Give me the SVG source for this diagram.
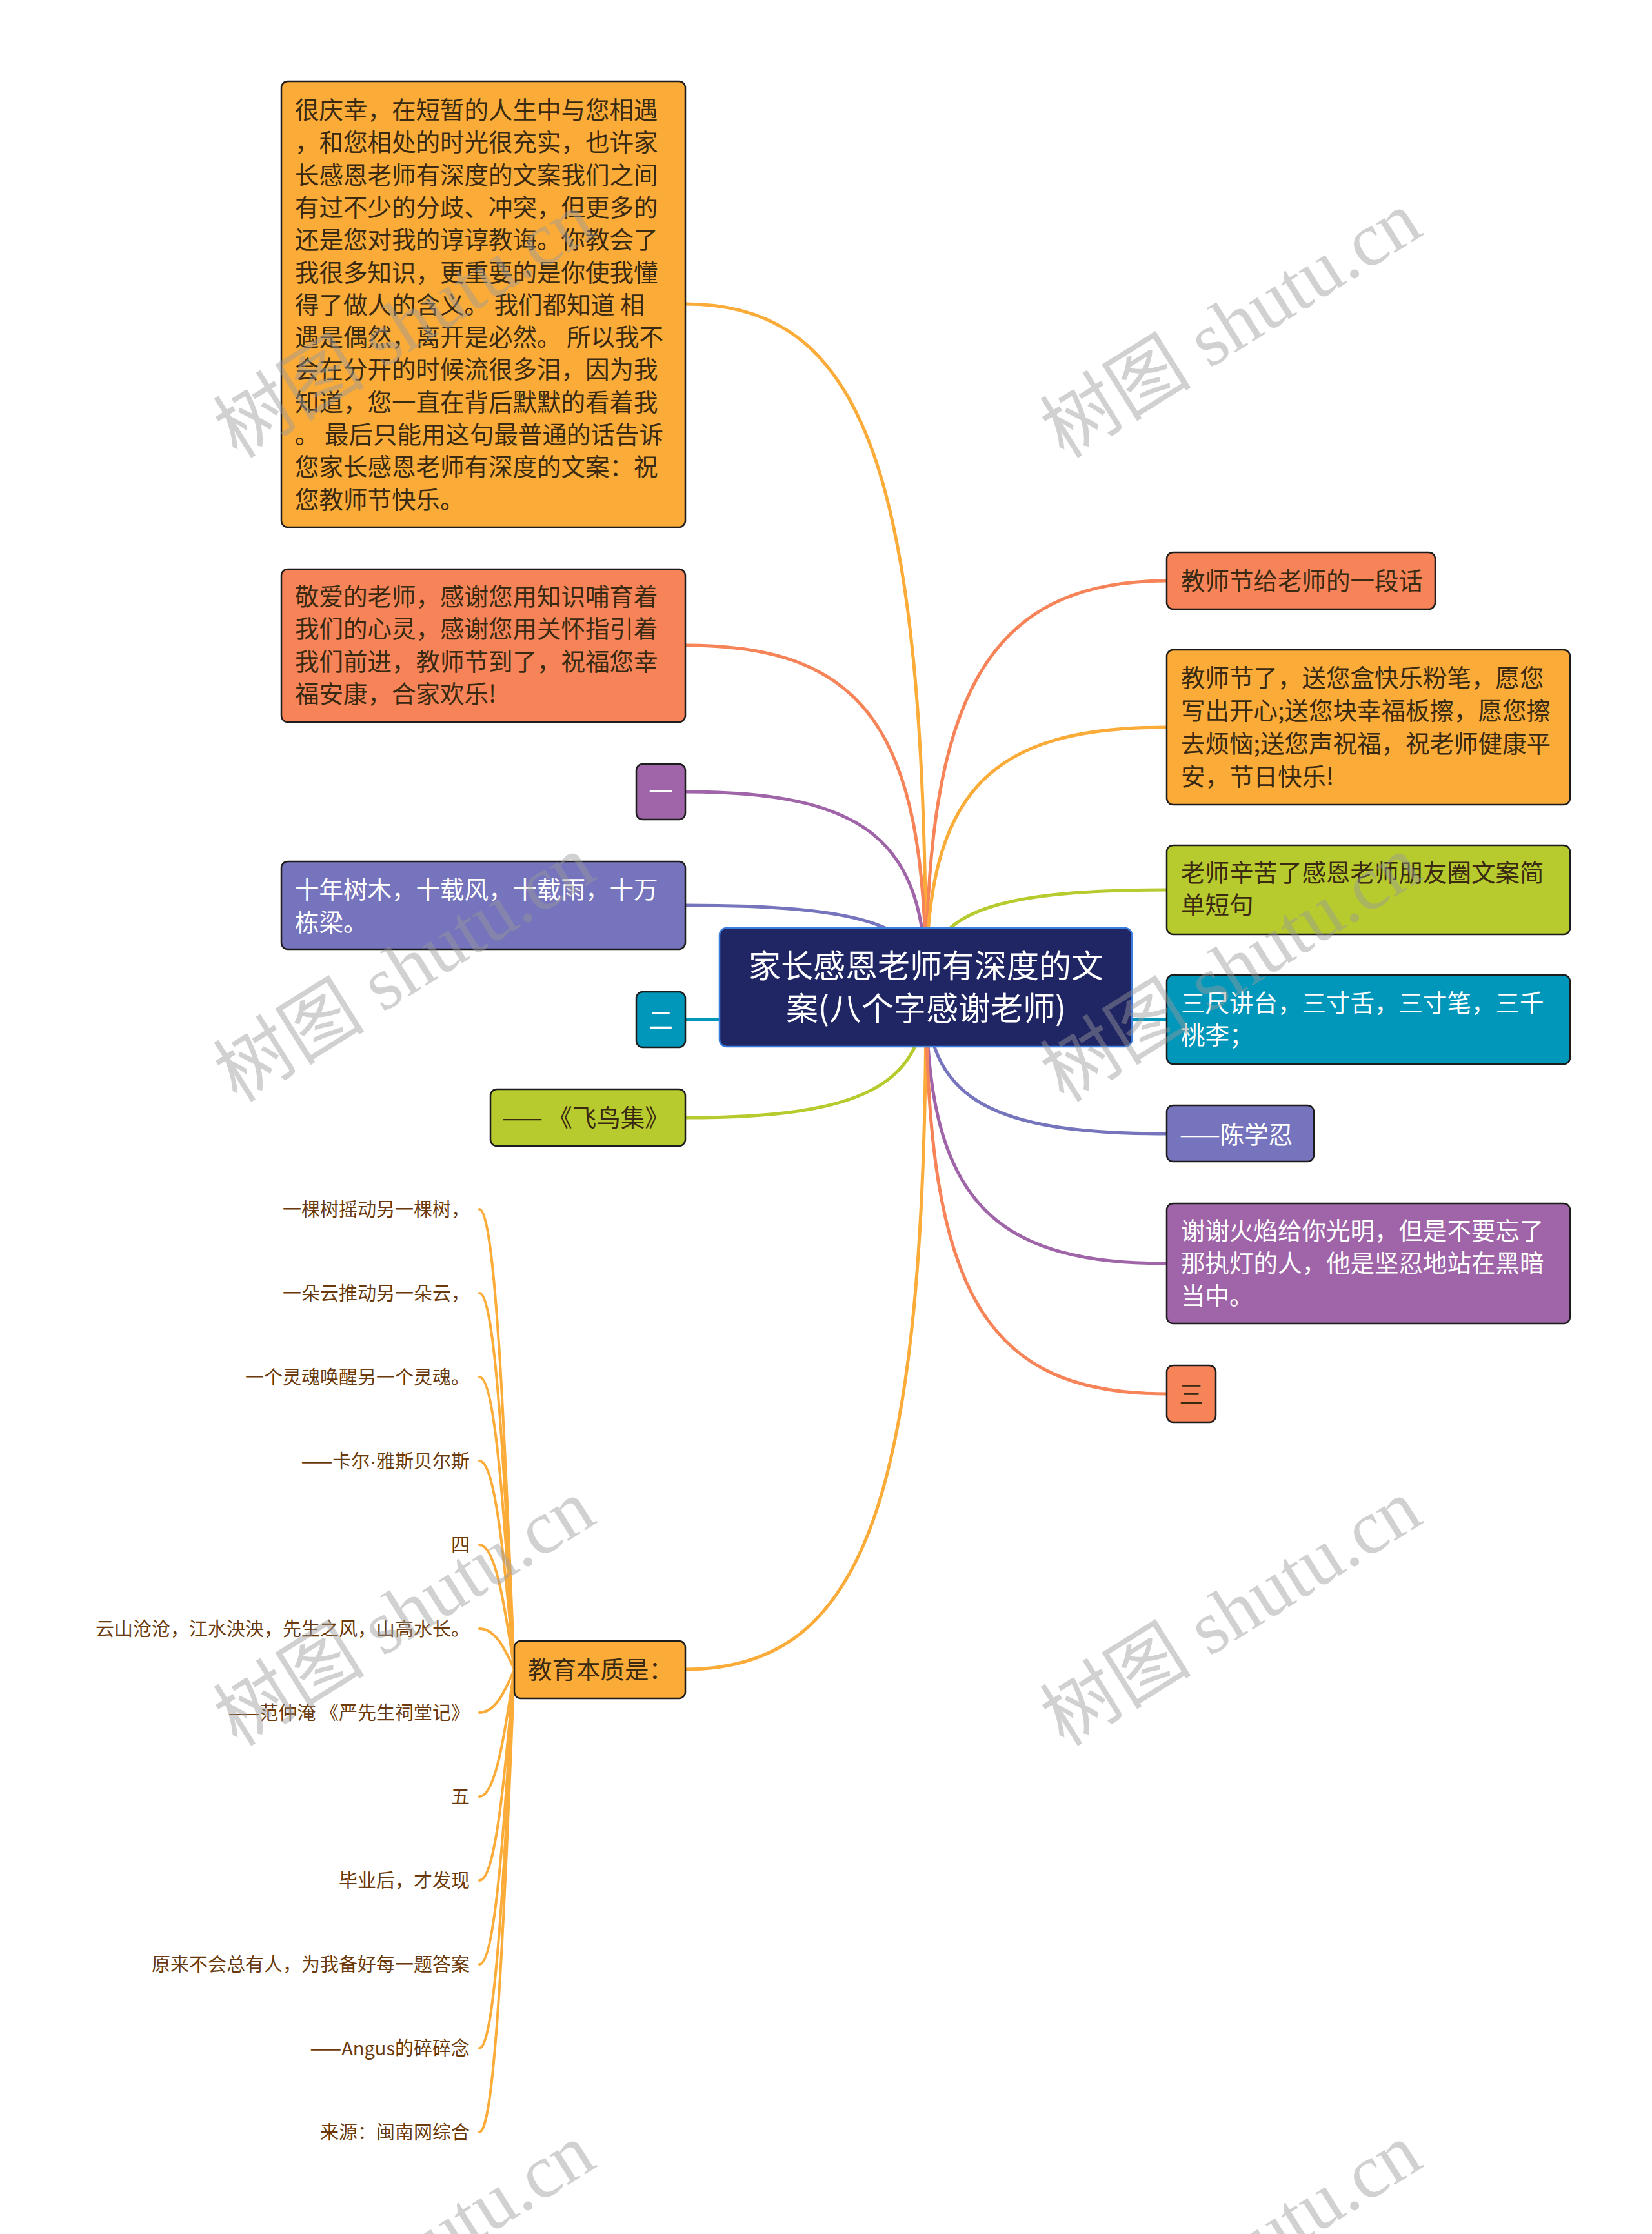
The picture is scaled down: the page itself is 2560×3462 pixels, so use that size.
<svg xmlns="http://www.w3.org/2000/svg" width="2560" height="3462" viewBox="0 0 2560 3462">
<style>
text{font-family:"Noto Sans CJK SC","Noto Sans",sans-serif;}
.nb{stroke:#1c1c1c;stroke-width:2.5;}
.t{font-size:37.5px;fill:#3a2a12;}
.w{font-size:37.5px;fill:#ffffff;}
.leaf{font-size:29px;fill:#6b3a0c;text-anchor:end;}
.c{fill:none;stroke-width:5;stroke-linecap:round;}
.lc{fill:none;stroke:#fbab38;stroke-width:4;stroke-linecap:round;}
.wm{font-family:"Liberation Serif","Noto Sans CJK SC",serif;font-size:118px;fill:#9a9a9a;fill-opacity:0.45;}
.lat{font-family:"Liberation Sans",sans-serif;}
</style>
<rect width="2560" height="3462" fill="#ffffff"/>
<g id="connectors">
<path class="c" stroke="#fbab38" d="M1435,1530 C1435,736 1342,471 1062,471"/>
<path class="c" stroke="#f68458" d="M1435,1530 C1435,1133 1342,1000 1062,1000"/>
<path class="c" stroke="#a065a8" d="M1435,1530 C1435,1303 1342,1227 1062,1227"/>
<path class="c" stroke="#7674bc" d="M1435,1530 C1435,1435 1342,1403 1062,1403"/>
<path class="c" stroke="#0097ba" d="M1435,1530 C1435,1567 1342,1580 1062,1580"/>
<path class="c" stroke="#b7ca2e" d="M1435,1530 C1435,1681 1342,1732 1062,1732"/>
<path class="c" stroke="#fbab38" d="M1435,1530 C1435,2320 1342,2587 1062,2587"/>
<path class="c" stroke="#f68458" d="M1435,1530 C1435,1082 1528,900 1808,900"/>
<path class="c" stroke="#fbab38" d="M1435,1530 C1435,1230 1528,1127 1808,1127"/>
<path class="c" stroke="#b7ca2e" d="M1435,1530 C1435,1417 1528,1379 1808,1379"/>
<path class="c" stroke="#0097ba" d="M1435,1530 C1435,1567 1528,1580 1808,1580"/>
<path class="c" stroke="#7674bc" d="M1435,1530 C1435,1700 1528,1757 1808,1757"/>
<path class="c" stroke="#a065a8" d="M1435,1530 C1435,1851 1528,1958 1808,1958"/>
<path class="c" stroke="#f68458" d="M1435,1530 C1435,2007 1528,2160 1808,2160"/>
<path class="lc" d="M743,1874 C770,1874 785,2302 797,2587"/>
<path class="lc" d="M743,2004 C770,2004 785,2354 797,2587"/>
<path class="lc" d="M743,2134 C770,2134 785,2406 797,2587"/>
<path class="lc" d="M743,2264 C770,2264 785,2458 797,2587"/>
<path class="lc" d="M743,2394 C770,2394 785,2510 797,2587"/>
<path class="lc" d="M743,2524 C770,2524 785,2562 797,2587"/>
<path class="lc" d="M743,2654 C770,2654 785,2614 797,2587"/>
<path class="lc" d="M743,2784 C770,2784 785,2666 797,2587"/>
<path class="lc" d="M743,2914 C770,2914 785,2718 797,2587"/>
<path class="lc" d="M743,3044 C770,3044 785,2770 797,2587"/>
<path class="lc" d="M743,3174 C770,3174 785,2822 797,2587"/>
<path class="lc" d="M743,3304 C770,3304 785,2874 797,2587"/>
</g>
<g id="center">
<rect x="1115" y="1438" width="639" height="184" rx="11" fill="#202664" stroke="#3b7ddd" stroke-width="2.5"/>
<text x="1435" y="1515" font-size="50" fill="#ffffff" text-anchor="middle">家长感恩老师有深度的文</text>
<text x="1435" y="1581" font-size="50" fill="#ffffff" text-anchor="middle">案(八个字感谢老师)</text>
</g>
<g id="n1">
<rect class="nb" x="436" y="126" width="626" height="691" rx="10" fill="#fbab38"/>
<text class="t" x="457" y="184">很庆幸，在短暂的人生中与您相遇</text>
<text class="t" x="457" y="234.3">，和您相处的时光很充实，也许家</text>
<text class="t" x="457" y="284.6">长感恩老师有深度的文案我们之间</text>
<text class="t" x="457" y="334.9">有过不少的分歧、冲突，但更多的</text>
<text class="t" x="457" y="385.2">还是您对我的谆谆教诲。你教会了</text>
<text class="t" x="457" y="435.5">我很多知识，更重要的是你使我懂</text>
<text class="t" x="457" y="485.8">得了做人的含义。 我们都知道 相</text>
<text class="t" x="457" y="536.1">遇是偶然，离开是必然。 所以我不</text>
<text class="t" x="457" y="586.4">会在分开的时候流很多泪，因为我</text>
<text class="t" x="457" y="636.7">知道，您一直在背后默默的看着我</text>
<text class="t" x="457" y="687">。 最后只能用这句最普通的话告诉</text>
<text class="t" x="457" y="737.3">您家长感恩老师有深度的文案：祝</text>
<text class="t" x="457" y="787.6">您教师节快乐。</text>
</g>
<g id="n2">
<rect class="nb" x="436" y="882" width="626" height="237" rx="10" fill="#f68458"/>
<text class="t" x="457" y="938">敬爱的老师，感谢您用知识哺育着</text>
<text class="t" x="457" y="988.3">我们的心灵，感谢您用关怀指引着</text>
<text class="t" x="457" y="1038.6">我们前进，教师节到了，祝福您幸</text>
<text class="t" x="457" y="1088.9">福安康，合家欢乐!</text>
</g>
<g id="n3">
<rect class="nb" x="986" y="1184" width="76" height="86" rx="10" fill="#a065a8"/>
<text class="w" x="1024" y="1241" text-anchor="middle">一</text>
</g>
<g id="n4">
<rect class="nb" x="436" y="1335" width="626" height="136" rx="10" fill="#7674bc"/>
<text class="w" x="457" y="1392">十年树木，十载风，十载雨，十万</text>
<text class="w" x="457" y="1443">栋梁。</text>
</g>
<g id="n5">
<rect class="nb" x="986" y="1537" width="76" height="86" rx="10" fill="#0097ba"/>
<text class="w" x="1024" y="1594" text-anchor="middle">二</text>
</g>
<g id="n6">
<rect class="nb" x="760" y="1688" width="302" height="88" rx="10" fill="#b7ca2e"/>
<text class="t" x="778" y="1746" xml:space="preserve">—— 《飞鸟集》</text>
</g>
<g id="n7">
<rect class="nb" x="797" y="2543" width="265" height="89" rx="10" fill="#fbab38"/>
<text class="t" x="818" y="2601">教育本质是：</text>
</g>
<g id="leaves">
<text class="leaf" x="728" y="1885">一棵树摇动另一棵树，</text>
<text class="leaf" x="728" y="2015">一朵云推动另一朵云，</text>
<text class="leaf" x="728" y="2145">一个灵魂唤醒另一个灵魂。</text>
<text class="leaf" x="728" y="2275">——卡尔<tspan class="lat">·</tspan>雅斯贝尔斯</text>
<text class="leaf" x="728" y="2405">四</text>
<text class="leaf" x="728" y="2535">云山沧沧，江水泱泱，先生之风，山高水长。</text>
<text class="leaf" x="728" y="2665">——范仲淹 《严先生祠堂记》</text>
<text class="leaf" x="728" y="2795">五</text>
<text class="leaf" x="728" y="2925">毕业后，才发现</text>
<text class="leaf" x="728" y="3055">原来不会总有人，为我备好每一题答案</text>
<text class="leaf" x="728" y="3185">——Angus的碎碎念</text>
<text class="leaf" x="728" y="3315">来源：闽南网综合</text>
</g>
<g id="n8">
<rect class="nb" x="1808" y="856" width="416" height="88" rx="10" fill="#f68458"/>
<text class="t" x="1830" y="914">教师节给老师的一段话</text>
</g>
<g id="n9">
<rect class="nb" x="1808" y="1007" width="625" height="240" rx="10" fill="#fbab38"/>
<text class="t" x="1830" y="1064">教师节了，送您盒快乐粉笔，愿您</text>
<text class="t" x="1830" y="1115">写出开心;送您块幸福板擦，愿您擦</text>
<text class="t" x="1830" y="1166">去烦恼;送您声祝福，祝老师健康平</text>
<text class="t" x="1830" y="1217">安，节日快乐!</text>
</g>
<g id="n10">
<rect class="nb" x="1808" y="1310" width="625" height="138" rx="10" fill="#b7ca2e"/>
<text class="t" x="1830" y="1366">老师辛苦了感恩老师朋友圈文案简</text>
<text class="t" x="1830" y="1416">单短句</text>
</g>
<g id="n11">
<rect class="nb" x="1808" y="1511" width="625" height="138" rx="10" fill="#0097ba"/>
<text class="w" x="1830" y="1568">三尺讲台，三寸舌，三寸笔，三千</text>
<text class="w" x="1830" y="1618">桃李；</text>
</g>
<g id="n12">
<rect class="nb" x="1808" y="1713" width="228" height="87" rx="10" fill="#7674bc"/>
<text class="w" x="1828" y="1772">——陈学忍</text>
</g>
<g id="n13">
<rect class="nb" x="1808" y="1865" width="625" height="186" rx="10" fill="#a065a8"/>
<text class="w" x="1830" y="1921">谢谢火焰给你光明，但是不要忘了</text>
<text class="w" x="1830" y="1971">那执灯的人，他是坚忍地站在黑暗</text>
<text class="w" x="1830" y="2022">当中。</text>
</g>
<g id="n14">
<rect class="nb" x="1808" y="2116" width="76" height="88" rx="10" fill="#f68458"/>
<text class="t" x="1846" y="2174" text-anchor="middle">三</text>
</g>
<g id="watermark">
<text class="wm" transform="translate(368,712) rotate(-32)" textLength="660" lengthAdjust="spacingAndGlyphs">树图 shutu.cn</text>
<text class="wm" transform="translate(1649,712) rotate(-32)" textLength="660" lengthAdjust="spacingAndGlyphs">树图 shutu.cn</text>
<text class="wm" transform="translate(368,1710) rotate(-32)" textLength="660" lengthAdjust="spacingAndGlyphs">树图 shutu.cn</text>
<text class="wm" transform="translate(1649,1710) rotate(-32)" textLength="660" lengthAdjust="spacingAndGlyphs">树图 shutu.cn</text>
<text class="wm" transform="translate(368,2708) rotate(-32)" textLength="660" lengthAdjust="spacingAndGlyphs">树图 shutu.cn</text>
<text class="wm" transform="translate(1649,2708) rotate(-32)" textLength="660" lengthAdjust="spacingAndGlyphs">树图 shutu.cn</text>
<text class="wm" transform="translate(368,3706) rotate(-32)" textLength="660" lengthAdjust="spacingAndGlyphs">树图 shutu.cn</text>
<text class="wm" transform="translate(1649,3706) rotate(-32)" textLength="660" lengthAdjust="spacingAndGlyphs">树图 shutu.cn</text>
</g>
</svg>
